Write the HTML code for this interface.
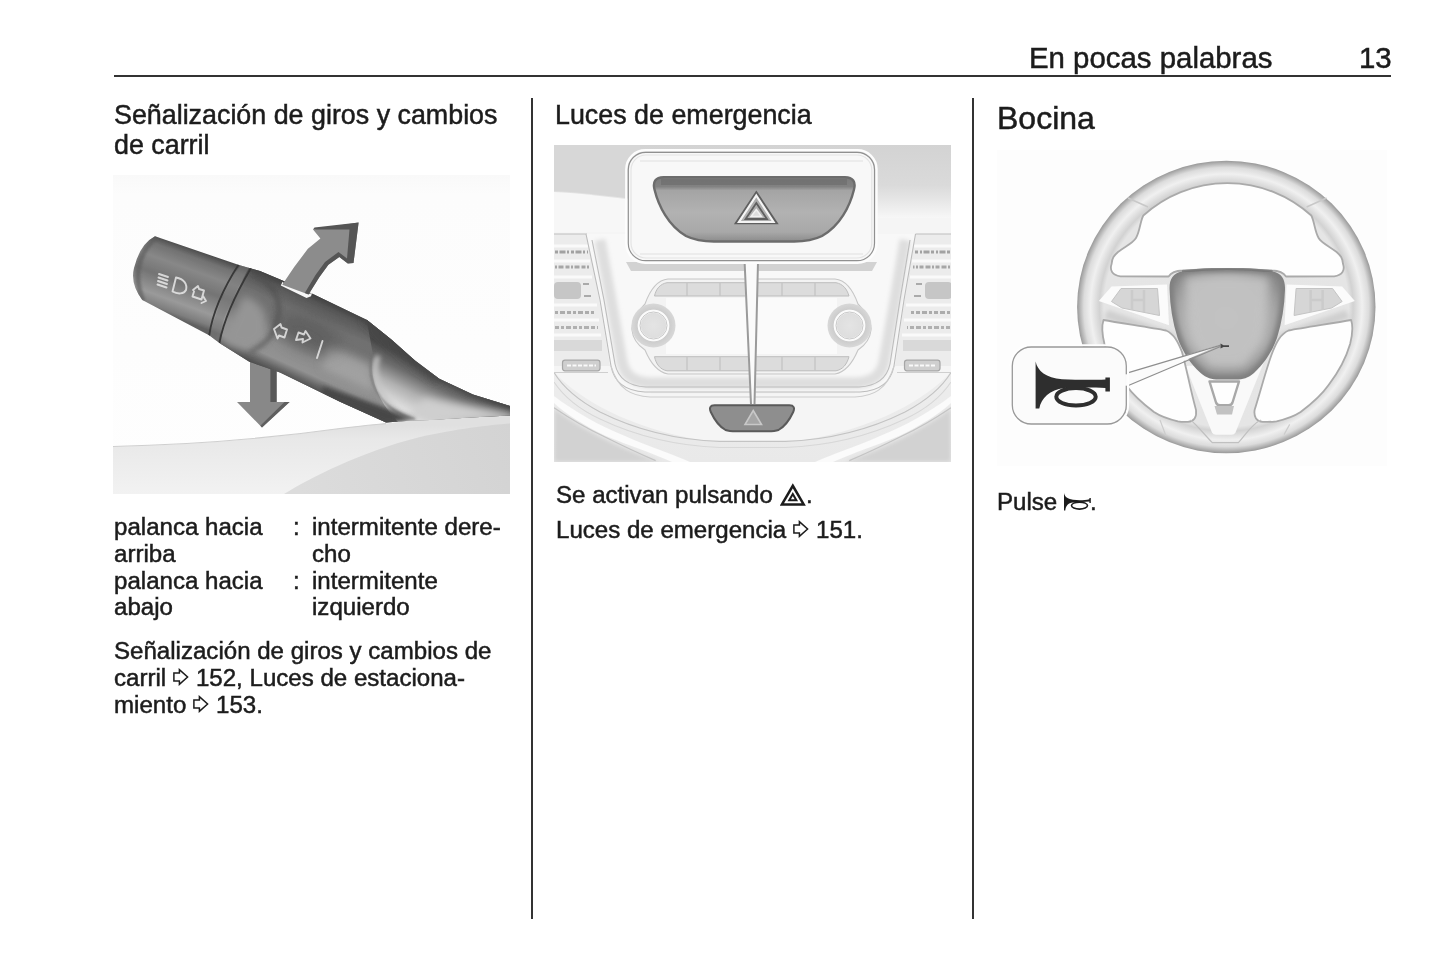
<!DOCTYPE html>
<html><head><meta charset="utf-8">
<style>
html,body{margin:0;padding:0;background:#fff;}
body{width:1445px;height:965px;position:relative;overflow:hidden;font-family:"Liberation Sans",sans-serif;color:#1c1c1c;}
.t{position:absolute;white-space:nowrap;line-height:1;-webkit-text-stroke:0.5px #1c1c1c;will-change:transform;}
.hd{font-size:29.4px;}
.h1{font-size:32px;}
.h3{font-size:26.85px;}
.b{font-size:24.08px;}
.ln{position:absolute;background:#333;}
svg{display:block;}
.il{position:absolute;}
.ic{display:inline-block;vertical-align:baseline;}
</style></head><body>
<!-- header -->
<div class="t hd" style="left:1028.6px;top:43px;">En pocas palabras</div>
<div class="t hd" style="left:1358.5px;top:43px;">13</div>
<div class="ln" style="left:113.8px;top:75.4px;width:1276.8px;height:1.9px;"></div>
<div class="ln" style="left:531px;top:98.2px;width:1.6px;height:821.2px;"></div>
<div class="ln" style="left:972.2px;top:98.2px;width:1.6px;height:821.2px;"></div>

<!-- column 1 -->
<div class="t h3" style="left:114px;top:102px;">Señalización de giros y cambios</div>
<div class="t h3" style="left:114px;top:131.5px;">de carril</div>
<svg class="il" style="left:113px;top:175px" width="397" height="319" viewBox="113 175 397 319">
<defs>
<linearGradient id="l1bg" x1="0" y1="175" x2="0" y2="494" gradientUnits="userSpaceOnUse"><stop offset="0" stop-color="#f9f9f9"/><stop offset="0.06" stop-color="#fcfcfc"/><stop offset="1" stop-color="#fefefe"/></linearGradient>
<linearGradient id="l1base" x1="0" y1="425" x2="0" y2="494" gradientUnits="userSpaceOnUse"><stop offset="0" stop-color="#e0e0e0"/><stop offset="0.2" stop-color="#e8e8e8"/><stop offset="1" stop-color="#f2f2f2"/></linearGradient>
<linearGradient id="l1base2" x1="300" y1="494" x2="510" y2="420" gradientUnits="userSpaceOnUse"><stop offset="0" stop-color="#dcdcdc"/><stop offset="1" stop-color="#d3d3d3"/></linearGradient>
<linearGradient id="l1cyl" x1="196" y1="250.500" x2="172" y2="317" gradientUnits="userSpaceOnUse"><stop offset="0" stop-color="#4e4e4e"/><stop offset="0.1" stop-color="#727272"/><stop offset="0.28" stop-color="#888888"/><stop offset="0.5" stop-color="#747474"/><stop offset="0.78" stop-color="#9a9a9a"/><stop offset="0.93" stop-color="#7e7e7e"/><stop offset="1" stop-color="#606060"/></linearGradient>
<linearGradient id="l1cyl2" x1="334" y1="304" x2="298" y2="384" gradientUnits="userSpaceOnUse"><stop offset="0" stop-color="#424242"/><stop offset="0.08" stop-color="#585858"/><stop offset="0.25" stop-color="#707070"/><stop offset="0.48" stop-color="#727272"/><stop offset="0.68" stop-color="#8e8e8e"/><stop offset="0.84" stop-color="#929292"/><stop offset="0.93" stop-color="#666666"/><stop offset="1" stop-color="#4a4a4a"/></linearGradient>
<linearGradient id="l1stalk" x1="462" y1="384" x2="440" y2="428" gradientUnits="userSpaceOnUse">
<stop offset="0" stop-color="#484848"/><stop offset="0.3" stop-color="#6e6e6e"/><stop offset="0.62" stop-color="#b0b0b0"/><stop offset="0.85" stop-color="#cfcfcf"/><stop offset="1" stop-color="#e2e2e2"/></linearGradient>
<filter id="l1b1" x="-20%" y="-20%" width="140%" height="140%"><feGaussianBlur stdDeviation="1.2"/></filter>
<filter id="l1b2" x="-30%" y="-30%" width="160%" height="160%"><feGaussianBlur stdDeviation="2.5"/></filter>
<filter id="l1b3" x="-30%" y="-30%" width="160%" height="160%"><feGaussianBlur stdDeviation="4"/></filter>
<filter id="l1b6" x="-40%" y="-40%" width="180%" height="180%"><feGaussianBlur stdDeviation="7"/></filter>
<filter id="l1bs" x="-5%" y="-5%" width="110%" height="110%"><feGaussianBlur stdDeviation="0.6"/></filter>
<clipPath id="l1clipL"><path d="M155 236.300 L239 265 L260 271 L282 280.200 L314 294.500 L367 320 L392 340 L415 360.600 L439.300 378.800 L473 394.500 L510 406 L510 415.500 L470 417.500 L430 420 L412.700 420.500 L386 422.600 L340 401.800 L280 372.500 L249.300 361.700 L219.400 343 L209.500 335.500 L142.300 300 Q130 284 134 268 Q140 244 155 236.300 Z"/></clipPath>
</defs>
<rect x="113" y="175" width="397" height="319" fill="url(#l1bg)"/>
<!-- base surface -->
<path d="M113 446.500 C180 445 250 441 340 428.500 C360 426 376 424.600 386 423.600 C430 418 470 413 510 410 V494 H113 Z" fill="url(#l1base)"/>
<path d="M113 446.500 C180 445 250 441 340 428.500 C360 426 376 424.600 386 423.600" fill="none" stroke="#cfcfcf" stroke-width="1.2"/>
<path d="M284 494 C310 478 360 452 420 437 C455 429 490 425 510 423.500 V494 Z" fill="url(#l1base2)"/>
<g filter="url(#l1bs)">
<!-- down arrow -->
<path d="M250 360 L276.600 371 V402 H289.600 L262 427.500 L237 402 H250 Z" fill="#888"/>
<path d="M270.400 368.500 L276.600 371 V402 H270.400 Z" fill="#585858"/>
<path d="M289.600 402 L262 427.500 L260.300 425.700 L284.500 402 Z" fill="#5e5e5e"/>
<!-- lever body -->
<g clip-path="url(#l1clipL)">
<rect x="113" y="175" width="397" height="319" fill="url(#l1cyl)"/>
<path d="M251 262 L520 380 L520 440 L380 440 L219.400 345 C224 318 238 290 251 262 Z" fill="url(#l1cyl2)"/>
<!-- lighter upper-mid band approaching ridge -->
<path d="M326 344 L372 364 L374 392 L322 368 Z" fill="#a8a8a8" filter="url(#l1b3)" opacity=".8"/>
<!-- paddle light zone near ring -->
<path d="M243 296 C262 301 270 316 266 336 C260 352 238 352 222 340 Z" fill="#959595" filter="url(#l1b3)"/>
<path d="M252 274 C272 282 284 300 277 322 C273 338 262 346 250 352" fill="none" stroke="#4a4a4a" stroke-width="3.500" filter="url(#l1b2)" opacity="0.75"/>
<!-- dark centre where symbols are -->
<ellipse cx="308" cy="334" rx="34" ry="17" transform="rotate(24 308 334)" fill="#555" filter="url(#l1b6)" opacity="0.55"/>
<!-- stalk (right, lighter) -->
<path d="M366 316 L392 340 L415 360.600 L439.300 378.800 L473 394.500 L520 408 L520 440 L400 424 C384 408 368 384 373 355 Z" fill="url(#l1stalk)"/>
<path d="M424 398 L473 406.500 L514 414 L514 420 L470 421 L428 424 L408 414 Z" fill="#cfcfcf" filter="url(#l1b3)"/>
<path d="M378 356 C370 375 380 398 398 412 C404 416 410 418 416 419.500" fill="none" stroke="#c4c4c4" stroke-width="5" filter="url(#l1b2)"/>
<path d="M373 352 C366 374 374 397 394 410 C400 414 408 417.500 415 419" fill="none" stroke="#6a6a6a" stroke-width="1.600" filter="url(#l1b1)" opacity=".8"/>
<path d="M366 317 L392 340 L415 360.600 L439.300 378.800" fill="none" stroke="#444" stroke-width="9" filter="url(#l1b3)"/><path d="M436 376 L473 393.500 L520 408" fill="none" stroke="#484848" stroke-width="6" filter="url(#l1b2)"/>
<!-- dark lower foot of lever -->
<path d="M322 386 L392 410 L414 419.500 L386 424 L322 396 Z" fill="#464646" filter="url(#l1b2)"/>
<!-- left cap edge shading -->
<path d="M157 236.300 Q128 262 143 301" fill="none" stroke="#5c5c5c" stroke-width="5" filter="url(#l1b1)" opacity=".6"/>
<!-- ring -->
<path d="M245 266 C232 287 218 314 214 340" fill="none" stroke="#7c7c7c" stroke-width="9" opacity=".5"/>
<path d="M239 264 C226 284 213 310 209 336" fill="none" stroke="#383838" stroke-width="1.800"/>
<path d="M251 268 C238 290 224 318 219.400 343" fill="none" stroke="#383838" stroke-width="1.800"/>
</g>
<!-- up arrow (in front of lever) -->
<path d="M280.800 285.600 L282.600 281.800 L284 283.300 L308.500 294 L312 293 L311 296.200 L306.500 298 Z" fill="#f6f6f6"/>
<path d="M282.200 284.700 L294.200 267 L307.900 248.800 L320.400 238.500 L313 229.400 L358.600 222.500 L353.500 263 L347.800 263.600 L339.300 257 L328.400 264.700 L319.300 277.300 L308.500 294.600 Z" fill="#8c8c8c"/>
<path d="M358.600 222.500 L353.500 263 L347.800 263.600 L339.300 257 L328.400 264.700 L319.300 277.300 L308.500 294.600 L304.800 293 L315.500 275 L325 262 L338.500 252 L347 258.500 L349.500 229.500 L313 229.400 L314.500 227.500 Z" fill="#555"/>
</g>
<!-- symbols -->
<g fill="none" stroke="#f2f2f2" stroke-width="1.900" opacity=".78" stroke-linecap="round" stroke-linejoin="round" filter="url(#l1bs)">
<path d="M159 274 l9 3 M158.500 277.500 l9 3 M158 281 l9 3 M157.500 284.500 l9 3"/>
<path d="M176 277.500 C184 279 187.500 284 186 290 C184 294 178 294.500 172.500 291.500 Z"/>
<path d="M193 290 l5 -4 l1 3 l5 1.500 l-2.500 9 l-9 -3 l1.500 -5 M203 296 l3 5 l-4.500 2"/>
<path d="M274 329 l6.500 -5 l1 3.500 l5.500 2 l-2.500 8 l-5.500 -2 l-1.500 3 Z"/>
<path d="M296 340 l2.500 -7.500 l5.500 2 l1.500 -3.500 l5 7.500 l-8 4 l0.500 -3.500 Z"/>
<path d="M322.500 341 l-5.500 17"/>
</g>
</svg>
<div class="t b" style="left:114.2px;top:515px;">palanca hacia</div>
<div class="t b" style="left:293px;top:515px;">:</div>
<div class="t b" style="left:312.2px;top:515px;">intermitente dere‐</div>
<div class="t b" style="left:114.2px;top:542px;">arriba</div>
<div class="t b" style="left:312.2px;top:542px;">cho</div>
<div class="t b" style="left:114.2px;top:569px;">palanca hacia</div>
<div class="t b" style="left:293px;top:569px;">:</div>
<div class="t b" style="left:312.2px;top:569px;">intermitente</div>
<div class="t b" style="left:114.2px;top:595px;">abajo</div>
<div class="t b" style="left:312.2px;top:595px;">izquierdo</div>
<div class="t b" style="left:114.2px;top:639px;">Señalización de giros y cambios de</div>
<div class="t b" style="left:114.2px;top:666px;">carril <svg class="ic" width="16.4" height="18" viewBox="0 0 16.4 18" style="margin-bottom:-0.2px;vertical-align:0.4px"><path d="M0.9 5 H6.4 V1.6 L14.6 9 L6.4 16.4 V13 H0.9 Z" fill="none" stroke="#1c1c1c" stroke-width="1.5" stroke-linejoin="miter"/></svg> 152, Luces de estaciona‐</div>
<div class="t b" style="left:114.2px;top:693px;">miento <svg class="ic" width="16.4" height="18" viewBox="0 0 16.4 18" style="margin-bottom:-0.2px;vertical-align:0.4px"><path d="M0.9 5 H6.4 V1.6 L14.6 9 L6.4 16.4 V13 H0.9 Z" fill="none" stroke="#1c1c1c" stroke-width="1.5" stroke-linejoin="miter"/></svg> 153.</div>

<!-- column 2 -->
<div class="t h3" style="left:555px;top:102px;">Luces de emergencia</div>
<svg class="il" style="left:554px;top:145px" width="397" height="317" viewBox="554 145 397 317">
<defs>
<linearGradient id="d2top" x1="0" y1="145" x2="0" y2="218" gradientUnits="userSpaceOnUse"><stop offset="0" stop-color="#d3d3d3"/><stop offset="0.55" stop-color="#dadada"/><stop offset="0.75" stop-color="#e6e6e6"/><stop offset="1" stop-color="#f7f7f7"/></linearGradient>
<linearGradient id="d2btn" x1="0" y1="176" x2="0" y2="242" gradientUnits="userSpaceOnUse"><stop offset="0" stop-color="#7a7a7a"/><stop offset="0.16" stop-color="#828282"/><stop offset="0.22" stop-color="#a4a4a4"/><stop offset="0.55" stop-color="#b2b2b2"/><stop offset="0.85" stop-color="#a8a8a8"/><stop offset="1" stop-color="#8a8a8a"/></linearGradient>
<linearGradient id="d2low" x1="0" y1="372" x2="0" y2="462" gradientUnits="userSpaceOnUse"><stop offset="0" stop-color="#ededed"/><stop offset="1" stop-color="#e9e9e9"/></linearGradient>
<radialGradient id="d2knob" cx="0.5" cy="0.5" r="0.5"><stop offset="0" stop-color="#e4e4e4"/><stop offset="0.55" stop-color="#dedede"/><stop offset="0.6" stop-color="#fbfbfb"/><stop offset="0.7" stop-color="#fbfbfb"/><stop offset="0.74" stop-color="#cdcdcd"/><stop offset="1" stop-color="#d8d8d8"/></radialGradient>
<filter id="d2b1" x="-10%" y="-10%" width="120%" height="120%"><feGaussianBlur stdDeviation="0.7"/></filter>
<filter id="d2b2" x="-20%" y="-20%" width="140%" height="140%"><feGaussianBlur stdDeviation="2"/></filter>
<filter id="d2b5" x="-30%" y="-30%" width="160%" height="160%"><feGaussianBlur stdDeviation="6"/></filter>
<clipPath id="d2clip"><rect x="554" y="145" width="397" height="317"/></clipPath>
</defs>
<g clip-path="url(#d2clip)">
<rect x="554" y="145" width="397" height="317" fill="#f5f5f5"/>
<rect x="554" y="145" width="397" height="73" fill="url(#d2top)"/>
<!-- left sharper edge of top band -->
<path d="M554 145 H640 V200 C610 196 580 192 554 191 Z" fill="#d7d7d7" filter="url(#d2b1)"/>
<path d="M554 192 C580 193 610 197 640 201 V232 H554 Z" fill="#f7f7f7" filter="url(#d2b1)"/>
<!-- lower dash area -->
<path d="M554 372 C580 400 630 428 700 440 H805 C875 428 925 400 951 372 V462 H554 Z" fill="url(#d2low)"/>
<path d="M554 408 C580 428 620 448 660 462 H554 Z" fill="#d2d2d2" filter="url(#d2b2)"/>
<path d="M951 408 C925 428 885 448 845 462 H951 Z" fill="#d2d2d2" filter="url(#d2b2)"/>
<g fill="none" stroke="#c4c4c4" stroke-width="1.200" filter="url(#d2b1)">
<path d="M554 372.500 C566 392 585 404 600 412 C640 432 680 440 720 441.500 H785 C825 440 865 432 905 412 C920 404 939 392 951 372.500"/>
<path d="M554 382 C566 400 585 412 600 419 C640 438 680 446 720 447.500 H785 C825 446 865 438 905 419 C920 412 939 400 951 382" stroke="#d8d8d8"/>
<path d="M554 407.800 C575 422 590 430 603 436 C625 447 640 454 655.700 460.600"/>
<path d="M951 407.800 C930 422 915 430 902 436 C880 447 865 454 849.300 460.600"/>
</g>
<path d="M554 396 C575 412 600 426 625 436 C650 447 670 453 690 462 H672 C650 452 630 446 606 436 C585 426 566 414 554 403 Z" fill="#fbfbfb" filter="url(#d2b1)"/>
<path d="M951 396 C930 412 905 426 880 436 C855 447 835 453 815 462 H833 C855 452 875 446 899 436 C920 426 939 414 951 403 Z" fill="#fbfbfb" filter="url(#d2b1)"/>
<!-- vents left -->
<g filter="url(#d2b1)">
<path d="M554 234 H587 L601 310 L610 366 H554 Z" fill="#ececec"/>
<path d="M554 234 H587" stroke="#bdbdbd" stroke-width="1.200"/>
<path d="M554 246 H588 M554 261 H590 M554 277 H592 M554 305 H597 M554 320 H599 M554 335 H601" stroke="#fafafa" stroke-width="3"/>
<path d="M555 252 H588" stroke="#a2a2a2" stroke-width="3.200" stroke-dasharray="3 1.500 6 1.500 2 2"/>
<path d="M555 267 H590" stroke="#a6a6a6" stroke-width="3.200" stroke-dasharray="2 1.500 5 2 4 1.500"/>
<rect x="554" y="282" width="27" height="17" rx="4" fill="#c6c6c6"/>
<path d="M583 284 h6 M584 296 h7" stroke="#aaa" stroke-width="2"/>
<path d="M555 312.500 H596" stroke="#acacac" stroke-width="3" stroke-dasharray="3 2 5 2 4 2"/>
<path d="M555 327.500 H598" stroke="#b0b0b0" stroke-width="3" stroke-dasharray="4 2 3 2 5 2"/>
<rect x="554" y="340" width="48" height="11" fill="#d9d9d9"/>
<rect x="562.500" y="360.200" width="37.500" height="10.600" rx="2.500" fill="#cfcfcf" stroke="#a6a6a6" stroke-width="1.200"/>
<path d="M567 365.500 H596" stroke="#fafafa" stroke-width="2" stroke-dasharray="4 1.500"/>
<path d="M554 372.500 H608" stroke="#cfcfcf" stroke-width="1"/>
</g>
<!-- vents right -->
<g filter="url(#d2b1)">
<path d="M951 234 H915.500 L903 310 L895 366 H951 Z" fill="#ececec"/>
<path d="M951 234 H915.500" stroke="#bdbdbd" stroke-width="1.200"/>
<path d="M951 246 H914 M951 261 H912 M951 277 H910 M951 305 H906 M951 320 H904 M951 335 H902" stroke="#fafafa" stroke-width="3"/>
<path d="M950 252 H915" stroke="#a2a2a2" stroke-width="3.200" stroke-dasharray="3 1.500 6 1.500 2 2"/>
<path d="M950 267 H913" stroke="#a6a6a6" stroke-width="3.200" stroke-dasharray="2 1.500 5 2 4 1.500"/>
<rect x="925" y="282" width="27" height="17" rx="4" fill="#c6c6c6"/>
<path d="M916 284 h6 M914 296 h7" stroke="#aaa" stroke-width="2"/>
<path d="M950 312.500 H909" stroke="#acacac" stroke-width="3" stroke-dasharray="3 2 5 2 4 2"/>
<path d="M950 327.500 H907" stroke="#b0b0b0" stroke-width="3" stroke-dasharray="4 2 3 2 5 2"/>
<rect x="903" y="340" width="48" height="11" fill="#d9d9d9"/>
<rect x="904.500" y="360.200" width="35.500" height="10.600" rx="2.500" fill="#cfcfcf" stroke="#a6a6a6" stroke-width="1.200"/>
<path d="M909 365.500 H936" stroke="#fafafa" stroke-width="2" stroke-dasharray="4 1.500"/>
<path d="M951 372.500 H897" stroke="#cfcfcf" stroke-width="1"/>
</g>
<!-- console -->
<g filter="url(#d2b1)">
<path d="M586 234 L600 300 L611 366 C614 382 626 391 645 392 H860 C879 391 891 382 894 366 L904 300 L915.500 234 Z" fill="#f8f8f8"/>
<path d="M600 240 L611 300 L622 362 C625 376 634 382 650 383 H856 C872 382 881 376 884 362 L895 300 L905 240" fill="none" stroke="#dedede" stroke-width="11" filter="url(#d2b2)"/>
<path d="M626 262 H877 L872 271 H631 Z" fill="#d2d2d2"/>
<g fill="none" stroke="#bcbcbc" stroke-width="1.100">
<path d="M586 234 L600 300 L611 366 C614 382 626 391 645 392 H860 C879 391 891 382 894 366 L904 300 L915.500 234"/>
<path d="M592 240 L604 300 L615 364 C618 378 628 386 646 387 H859 C877 386 887 378 890 364 L900 300 L910 240"/>
<path d="M611 366 C618 390 632 396 650 397 H855 C873 396 887 390 894 366" stroke="#cdcdcd"/>
</g>
<!-- radio -->
<path d="M668 279 H835 C846 280 853 290 858 304 C866 312 872 320 871 330 C870 340 864 346 858 350 C853 362 846 372 835 374 H668 C657 372 650 362 645 350 C639 346 633 340 632 330 C631 320 637 312 645 304 C650 290 657 280 668 279 Z" fill="#f3f3f3" stroke="#c6c6c6" stroke-width="1.100"/>
<rect x="666" y="298" width="171" height="56" fill="#fafafa"/>
<path d="M667 282.700 H836 C843 284 847 289 849 296 H654.500 C656 289 660 284 667 282.700 Z" fill="#dcdcdc" stroke="#bdbdbd" stroke-width="1"/>
<path d="M667 370.800 H836 C843 369.500 847 364 849 356.700 H654.500 C656 364 660 369.500 667 370.800 Z" fill="#dcdcdc" stroke="#bdbdbd" stroke-width="1"/>
<path d="M687 283 V296 M720 283 V296 M782 283 V296 M815 283 V296 M687 357 V370.500 M720 357 V370.500 M782 357 V370.500 M815 357 V370.500" stroke="#c2c2c2" stroke-width="1.200"/>
<circle cx="653.500" cy="325.500" r="22" fill="url(#d2knob)"/>
<circle cx="849.500" cy="325.500" r="22" fill="url(#d2knob)"/>
<circle cx="653.500" cy="325.500" r="13.500" fill="none" stroke="#c9c9c9" stroke-width="1"/>
<circle cx="849.500" cy="325.500" r="13.500" fill="none" stroke="#c9c9c9" stroke-width="1"/>
</g>
<!-- small hazard button -->
<g filter="url(#d2b1)">
<path d="M714.500 405.200 H789.500 C793.800 405.200 795 408 793.200 412 C789.500 420 785.500 426 778.500 430 C775.500 431.100 772 431.300 768 431.300 H736 C732 431.300 728.500 431.100 725.500 430 C718.500 426 714.500 420 710.800 412 C709 408 710.200 405.200 714.500 405.200 Z" fill="#8e8e8e" stroke="#5a5a5a" stroke-width="2"/>
<path d="M753.200 410.500 L761.500 424.500 H745 Z" fill="#a6a6a6" stroke="#c8c8c8" stroke-width="1.600"/>
</g>
<!-- leader lines -->
<path d="M744 262 L750.500 404 H755 L758.500 262 Z" fill="#fafafa"/>
<path d="M744.600 262 L751 404 M758 262 L754.500 404" stroke="#9a9a9a" stroke-width="2" fill="none"/>

<!-- callout -->
<rect x="626.300" y="150.300" width="250.200" height="112.400" rx="19" fill="none" stroke="#fdfdfd" stroke-width="2.400"/>
<rect x="628.300" y="152.300" width="246.200" height="108.400" rx="17.500" fill="#f8f8f8" stroke="#909090" stroke-width="1.200"/>
<rect x="631" y="155" width="240.800" height="103" rx="15" fill="none" stroke="#e4e4e4" stroke-width="1.200"/>
<path d="M640 161 H863 M640 254 H863" stroke="#ececec" stroke-width="2"/>
<!-- big button -->
<g filter="url(#d2b1)">
<path d="M663.500 177.200 H845 C853 177.200 856 182 854 189.500 C850 206 840 226 822 236 C814 240 804 241.500 794 241.500 H714 C704 241.500 694 240 686 236 C668.500 226 658.500 206 654.500 189.500 C652.500 182 655.500 177.200 663.500 177.200 Z" fill="url(#d2btn)" stroke="#6c6c6c" stroke-width="2.400"/>
<path d="M661 182 H847" stroke="#6e6e6e" stroke-width="6" opacity=".7"/>
<path d="M756.300 192.800 L776.300 223 H736.300 Z" fill="none" stroke="#5e5e5e" stroke-width="2.600"/>
<path d="M756.300 195.500 L773.500 222 H739 Z" fill="none" stroke="#f4f4f4" stroke-width="2.200"/>
<path d="M756.300 203 L767 219 H745.600 Z" fill="none" stroke="#5e5e5e" stroke-width="1.800"/>
<path d="M756.300 209.500 L761.500 216.500 H751 Z" fill="#ddd" stroke="#f0f0f0" stroke-width="1.500"/>
</g>
</g>
</svg>
<div class="t b" style="left:555.7px;top:483px;">Se activan pulsando <svg class="ic" width="26.4" height="23" viewBox="0 0 26.4 23" style="vertical-align:-2.75px"><path d="M12.8 2.75 L23.7 21.4 H1.95 Z" fill="none" stroke="#1c1c1c" stroke-width="2.5" stroke-linejoin="miter"/><path d="M12.8 10.95 L16.35 17.15 H9.25 Z" fill="none" stroke="#1c1c1c" stroke-width="2" stroke-linejoin="miter"/></svg>.</div>
<div class="t b" style="left:555.6px;top:518px;">Luces de emergencia <svg class="ic" width="16.4" height="18" viewBox="0 0 16.4 18" style="margin-bottom:-0.2px;vertical-align:0.4px"><path d="M0.9 5 H6.4 V1.6 L14.6 9 L6.4 16.4 V13 H0.9 Z" fill="none" stroke="#1c1c1c" stroke-width="1.5" stroke-linejoin="miter"/></svg> 151.</div>

<!-- column 3 -->
<div class="t h1" style="left:997px;top:101.8px;">Bocina</div>
<svg class="il" style="left:997px;top:150px" width="390" height="316" viewBox="997 150 390 316">
<defs>
<radialGradient id="w3hub" cx="1226" cy="318" r="62" gradientUnits="userSpaceOnUse"><stop offset="0" stop-color="#c4c4c4"/><stop offset="0.55" stop-color="#bcbcbc"/><stop offset="0.8" stop-color="#a4a4a4"/><stop offset="1" stop-color="#8a8a8a"/></radialGradient>
<radialGradient id="w3rim" cx="0.5" cy="0.5" r="0.5"><stop offset="0" stop-color="#e6e6e6"/><stop offset="0.82" stop-color="#e5e5e5"/><stop offset="0.85" stop-color="#d2d2d2"/><stop offset="0.91" stop-color="#f0f0f0"/><stop offset="0.955" stop-color="#dcdcdc"/><stop offset="0.985" stop-color="#b0b0b0"/><stop offset="1" stop-color="#989898"/></radialGradient>
<filter id="w3b1" x="-10%" y="-10%" width="120%" height="120%"><feGaussianBlur stdDeviation="0.7"/></filter>
<filter id="w3b2" x="-20%" y="-20%" width="140%" height="140%"><feGaussianBlur stdDeviation="2"/></filter>
<filter id="w3b4" x="-30%" y="-30%" width="160%" height="160%"><feGaussianBlur stdDeviation="4"/></filter>
<clipPath id="w3disc"><circle cx="1227.300" cy="308.400" r="147.500"/></clipPath>
</defs>
<rect x="997" y="150" width="390" height="316" fill="#fdfdfd"/>
<g filter="url(#w3b1)">
<!-- wheel disc -->
<ellipse cx="1226.300" cy="307" rx="149.200" ry="146.200" fill="url(#w3rim)"/>
<path d="M1104 318 L1172 343 L1176 334 L1108 310 Z" fill="#cfcfcf" filter="url(#w3b2)"/><path d="M1349.600 318 L1281.600 343 L1277.600 334 L1345.600 310 Z" fill="#cfcfcf" filter="url(#w3b2)"/>
<path d="M1185.500 366 L1212 432.500 Q1213 434.800 1216 434.800 H1231.500 Q1234.500 434.800 1235.500 432.500 L1264.300 361 Z" fill="#f9f9f9"/>
<!-- openings -->
<g fill="#fefefe" stroke="#aaaaaa" stroke-width="1.800" stroke-linejoin="round">
<path d="M1120.400 276.300 C1112 275 1109.500 270 1111.600 264 C1112 258 1114 255.500 1118 252 C1126 246 1133 243 1136 238 C1140 231 1140 222 1143.300 215.500 A125 125 0 0 1 1311.300 215.500 C1314.600 222 1314.600 231 1318.600 238 C1321.600 243 1328.600 246 1336.600 252 C1340.600 255.500 1342.600 258 1343 264 C1345.100 270 1342.600 275 1334.200 276.300 L1286 276.500 C1283 272 1279 270.800 1272 270.500 C1245 268.500 1209.600 268.500 1182.600 270.500 C1175.600 270.800 1171.600 272 1168.600 276.500 Z"/>
<path d="M1103.500 320 C1120 323 1150 327.500 1166 330.500 C1174 334 1178 342 1182 352 C1186 366 1190 388 1196 410 C1197 417 1194 421.500 1188 421.800 C1184 422 1181 421.900 1178 421.300 C1168 419 1160 416 1154 412 C1142 403 1133 395 1126 385 C1116 372 1108 356 1104.500 344 C1102 334 1101.500 326 1103.500 320 Z"/>
<path d="M1351.100 320 C1334.600 323 1304.600 327.500 1288.600 330.500 C1280.600 334 1276.600 342 1272.600 352 C1267 366 1261.500 388 1254.600 410 C1253.600 417 1256.600 421.500 1262.600 421.800 C1267.600 422 1272.600 421.900 1276.600 421.300 C1286.600 419 1294.600 416 1300.600 412 C1312.600 403 1321.600 395 1328.600 385 C1338.600 372 1346.600 356 1350.100 344 C1352.600 334 1353.100 326 1351.100 320 Z"/>
<path d="M1209.500 381.500 H1239 L1232.500 402.500 C1231.800 404.500 1230.500 405.200 1228.500 405.200 H1220 C1218 405.200 1216.700 404.500 1216 402.500 Z" stroke="#a8a8a8" stroke-width="2.400"/>
</g>
<!-- inner V trim lines -->
<g fill="none" stroke="#c0c0c0" stroke-width="1.200">
<path d="M1190.500 420 C1196 424 1204 434 1212.200 442.600 H1238.400 C1246 434 1252 424 1261 420"/>
<path d="M1160 420 L1166 436 M1289.700 424.400 L1284 434.600" stroke="#cccccc"/>
<path d="M1128 198 L1148 207 M1326.600 198 L1306.600 207" stroke="#c8c8c8" stroke-width="1.500"/>
</g>
<path d="M1214.500 406 H1234 L1232 414.500 H1217 Z" fill="#c2c2c2" filter="url(#w3b1)"/>
<!-- spoke button panels -->
<path d="M1098.800 301 L1111.500 286.600 L1167 284.400 L1169 325.300 Z" fill="#fbfbfb"/>
<path d="M1354.800 301 L1342.100 286.600 L1286.600 284.400 L1284.600 325.300 Z" fill="#fbfbfb"/>
<path d="M1111.500 301.500 L1121 288.500 H1157.500 L1159.500 315.500 L1122 308 Z" fill="#d6d6d6" stroke="#c4c4c4" stroke-width="1"/>
<path d="M1342.100 301.500 L1332.600 288.500 H1296.100 L1294.100 315.500 L1331.600 308 Z" fill="#d6d6d6" stroke="#c4c4c4" stroke-width="1"/>
<path d="M1132 290 V310 M1144 290 V312 M1132 300 H1144" stroke="#cbcbcb" stroke-width="2.500"/>
<path d="M1322.600 290 V310 M1310.600 290 V312 M1322.600 300 H1310.600" stroke="#cbcbcb" stroke-width="2.500"/>
<!-- hub -->
<path d="M1182 271.500 C1209.600 268.300 1245 268.300 1272.600 271.500 C1282 273 1285.500 280 1285 290 C1284.500 306 1282 322 1277 338 C1272 352 1264 364 1254 373 C1248 378 1243 379.500 1236 379.500 H1218.600 C1211.600 379.500 1206.600 378 1200.600 373 C1190.600 364 1182.600 352 1177.600 338 C1172.600 322 1170 306 1169.600 290 C1169 280 1172.600 273 1182 271.500 Z" fill="#808080"/>
</g>
<path d="M1184 275 C1210 272 1244.600 272 1270.600 275 C1278.600 276.500 1281 282 1280.600 290 C1280 306 1278 321 1273 336 C1268 350 1261 361 1251.600 369 C1246 374 1241.600 375 1235.600 375 H1219 C1213 375 1208.600 374 1203 369 C1193.600 361 1186.600 350 1181.600 336 C1176.600 321 1174.600 306 1174 290 C1173.600 282 1176 276.500 1184 275 Z" fill="url(#w3hub)" filter="url(#w3b2)"/>
<path d="M1186 278 H1268 L1262 340 L1244 366 H1210 L1192 340 Z" fill="#c2c2c2" filter="url(#w3b4)" opacity=".9"/>
<path d="M1182 271.500 C1209.600 268.300 1245 268.300 1272.600 271.500" fill="none" stroke="#767676" stroke-width="2.500" filter="url(#w3b1)" opacity=".8"/>
<!-- small horn mark on hub -->
<path d="M1220.500 343.600 L1223.500 345.300 H1229 V347 H1223.500 L1220.500 348.600 Z" fill="#444" filter="url(#w3b1)"/>
<!-- leader lines -->
<path d="M1126 373.300 L1220 345 L1126 386.500 Z" fill="#fbfbfb"/>
<path d="M1126 373.300 L1220 345.300 M1126 386.500 L1220 346.700" stroke="#8e8e8e" stroke-width="1.200" fill="none"/>
<!-- callout -->
<rect x="1010.600" y="345.300" width="117.400" height="80.400" rx="20.500" fill="none" stroke="#fefefe" stroke-width="2.200"/>
<rect x="1012.300" y="347" width="114" height="77" rx="19" fill="#fbfbfb" stroke="#999" stroke-width="1.300"/>
<path d="M1126.300 374.300 V385.700" stroke="#fbfbfb" stroke-width="2.500"/>
<!-- horn icon -->
<g filter="url(#w3b1)">
<path d="M1035.600 361.500 C1037.500 371 1046 378 1062 379.300 C1078 380 1095 380 1105.400 379.500 V377.500 H1109.900 V391.600 H1105.400 V388 C1095 387.500 1078 387.300 1064 388 C1050 390 1041 398 1039.300 408.500 H1035.600 Z" fill="#2e2e2e"/>
<ellipse cx="1076" cy="396.800" rx="19.700" ry="8.800" fill="none" stroke="#2e2e2e" stroke-width="4"/>
</g>
</svg>
<div class="t b" style="left:997px;top:490px;">Pulse <svg class="ic" width="28.5" height="18" viewBox="0 0 28.5 18" style="vertical-align:-0.9px;margin-left:-1.2px;margin-right:-1.3px;overflow:visible"><path d="M1 -0.2 C1.3 3 4 6 10 6.8 C16 7.4 22 7.2 26.4 6.2 V5 H27.8 V10 H26.4 V8.6 C22 9.2 16 9.2 10 9.4 C5 9.8 2.6 13 2.3 17.5 H1 Z" fill="#1c1c1c"/><ellipse cx="16.5" cy="12.6" rx="8" ry="3.5" fill="none" stroke="#1c1c1c" stroke-width="1.6"/></svg>.</div>
</body></html>
